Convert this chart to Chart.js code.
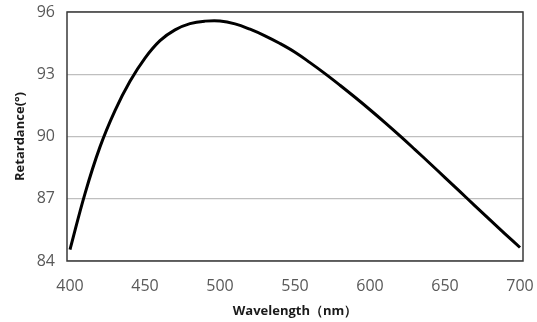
<!DOCTYPE html>
<html>
<head>
<meta charset="utf-8">
<script src="https://cdn.jsdelivr.net/npm/chart.js@4/dist/chart.umd.min.js"></script>
<style>
html,body{margin:0;padding:0;background:#fff;}
#wrap{width:537px;height:322px;position:relative;}
</style>
</head>
<body>
<div id="wrap"><canvas id="c" width="537" height="322"></canvas></div>
<script>
const wavelengths = [400,410,420,430,440,450,460,470,480,490,500,510,520,530,540,550,560,570,580,590,600,610,620,630,640,650,660,670,680,690,700];
const retardance = [84.55,87.25,89.5,91.25,92.66,93.78,94.62,95.14,95.44,95.56,95.57,95.43,95.17,94.85,94.48,94.06,93.56,93.03,92.47,91.89,91.29,90.67,90.03,89.37,88.7,88.02,87.34,86.66,85.98,85.31,84.65];
const xTicks = [400,450,500,550,600,650,700];
const yTicks = [84,87,90,93,96];

const framePlugin = {
  id:'frame',
  afterDatasetsDraw(chart){
    const {ctx, chartArea:a} = chart;
    ctx.save();
    ctx.strokeStyle = '#3a3a3a';
    ctx.lineWidth = 1.5;
    ctx.strokeRect(a.left, a.top, a.right-a.left, a.bottom-a.top);
    ctx.restore();
  }
};

new Chart(document.getElementById('c'), {
  type:'line',
  data:{
    datasets:[{
      data: wavelengths.map((w,i)=>({x:w, y:retardance[i]})),
      borderColor:'#000',
      borderWidth:3,
      pointRadius:0,
      tension:0.4,
      fill:false
    }]
  },
  plugins:[framePlugin],
  options:{
    responsive:false,
    animation:false,
    devicePixelRatio:1,
    layout:{padding:{top:12,right:14,left:12,bottom:0}},
    plugins:{legend:{display:false}, tooltip:{enabled:false}},
    scales:{
      x:{
        type:'linear', min:398, max:702,
        afterBuildTicks(s){ s.ticks = xTicks.map(v=>({value:v})); },
        afterFit(s){ s.height = 61; s.paddingLeft = 0; s.paddingRight = 0; },
        grid:{display:false, drawTicks:false},
        border:{display:false},
        ticks:{color:'#595959', font:{family:'Open Sans', size:16}, padding:16, maxRotation:0},
        title:{display:true, text:'Wavelength（nm）', color:'#1a1a1a', font:{family:'Open Sans', size:13, weight:'bold'}, padding:{top:2,bottom:3}}
      },
      y:{
        min:84, max:96,
        afterBuildTicks(s){ s.ticks = yTicks.map(v=>({value:v})); },
        afterFit(s){ s.width = 55; s.paddingTop = 0; s.paddingBottom = 0; },
        grid:{color:'#bfbfbf', lineWidth:1.2, drawTicks:false},
        border:{display:false},
        ticks:{color:'#595959', font:{family:'Open Sans', size:16}, padding:12},
        title:{display:true, text:'Retardance(°)', color:'#1a1a1a', font:{family:'Open Sans', size:13, weight:'bold'}, padding:{top:0,bottom:4}}
      }
    }
  }
});
</script>
</body>
</html>
